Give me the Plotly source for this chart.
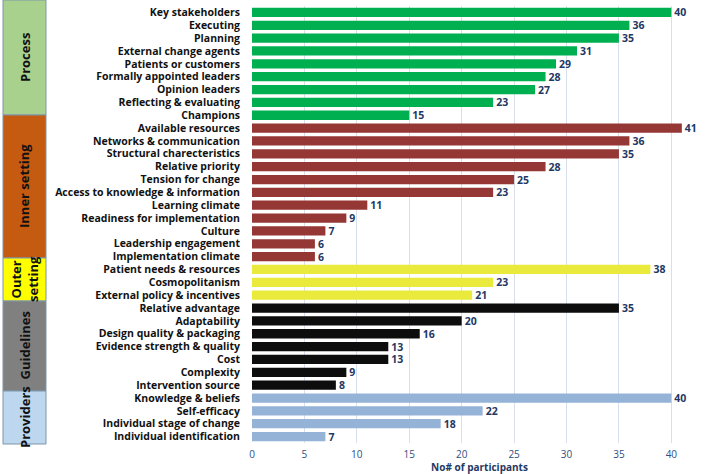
import plotly.graph_objects as go

categories = [
    "Key stakeholders", "Executing", "Planning", "External change agents",
    "Patients or customers", "Formally appointed leaders", "Opinion leaders",
    "Reflecting & evaluating", "Champions",
    "Available resources", "Networks & communication", "Structural charecteristics",
    "Relative priority", "Tension for change", "Access to knowledge & information",
    "Learning climate", "Readiness for implementation", "Culture",
    "Leadership engagement", "Implementation climate",
    "Patient needs & resources", "Cosmopolitanism", "External policy & incentives",
    "Relative advantage", "Adaptability", "Design quality & packaging",
    "Evidence strength & quality", "Cost", "Complexity", "Intervention source",
    "Knowledge & beliefs", "Self-efficacy", "Individual stage of change",
    "Individual identification",
]
values = [40, 36, 35, 31, 29, 28, 27, 23, 15,
          41, 36, 35, 28, 25, 23, 11, 9, 7, 6, 6,
          38, 23, 21,
          35, 20, 16, 13, 13, 9, 8,
          40, 22, 18, 7]
groups = ["Process"] * 9 + ["Inner setting"] * 11 + ["Outer setting"] * 3 + \
         ["Guidelines"] * 7 + ["Providers"] * 4
group_names = ["Process", "Inner setting", "Outer<br>setting", "Guidelines", "Providers"]
x_ticks = [0, 5, 10, 15, 20, 25, 30, 35, 40]

bar_colors = {"Process": "#00b050", "Inner setting": "#953735", "Outer setting": "#eaea3c",
              "Guidelines": "#0d0d0d", "Providers": "#95b3d7"}
box_colors = ["#a9d18e", "#c55a11", "#ffff00", "#808080", "#bdd7ee"]
# box vertical extents in pixels (top, bottom)
box_px = [(0, 115), (115, 258), (258, 301), (301, 391), (391, 444)]

W, H = 709, 474
ML, MR, MT, MB = 252, 2, 6, 31
pw = W - ML - MR
ph = H - MT - MB

def px_x(p):
    return (p - ML) / pw

def px_y(p):
    return (H - MB - p) / ph

fig = go.Figure()
fig.add_trace(go.Bar(
    y=categories, x=values, orientation="h",
    marker=dict(color=[bar_colors[g] for g in groups], line=dict(width=0)),
    text=[str(v) for v in values], textposition="outside", constraintext="none",
    textfont=dict(family="Open Sans", size=10.5, color="#1f3864", weight=700),
    cliponaxis=False, hoverinfo="x+y",
))

shapes = []
annotations = []
for name, col, (t, b) in zip(group_names, box_colors, box_px):
    shapes.append(dict(type="rect", xref="paper", yref="paper",
                       x0=px_x(3), x1=px_x(46), y0=px_y(b), y1=px_y(t),
                       fillcolor=col, line=dict(color="#7f95aa", width=1), layer="above"))
    annotations.append(dict(xref="paper", yref="paper", x=px_x(24.5), y=px_y((t + b) / 2),
                            xanchor="center", yanchor="middle",
                            text=name, textangle=-90, showarrow=False,
                            font=dict(family="Open Sans", size=13, color="#111111", weight=700)))

fig.update_layout(
    width=W, height=H,
    margin=dict(l=ML, r=MR, t=MT, b=MB, pad=0, autoexpand=False),
    paper_bgcolor="white", plot_bgcolor="white",
    bargap=0.28, showlegend=False,
    shapes=shapes, annotations=annotations,
    xaxis=dict(range=[0, 43.4], tickvals=x_ticks, showgrid=True, gridcolor="#d6dfeb",
               gridwidth=1, zeroline=False, showline=False, automargin=False,
               ticklabelstandoff=4,
               tickfont=dict(family="Open Sans", size=10, color="#2f4f7f"),
               title=dict(text="No# of participants", standoff=3,
                          font=dict(family="Open Sans", size=10, color="#1f3864", weight=700))),
    yaxis=dict(autorange="reversed", showgrid=False, ticks="", ticklabelstandoff=11,
               automargin=False, tickmode="array", tickvals=categories,
               tickfont=dict(family="Open Sans", size=10.5, color="#111111", weight=700)),
)

fig.write_html("out.html", config={"displayModeBar": False},
               post_script="document.body.style.margin='0';")
